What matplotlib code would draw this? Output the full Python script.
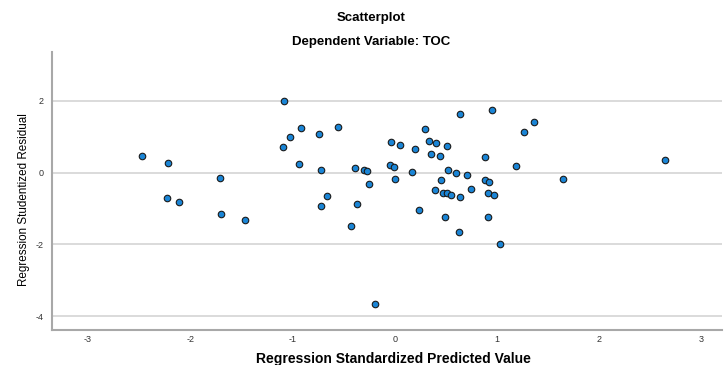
import numpy as np
import matplotlib as mpl

mpl.use('Agg')

import matplotlib.pyplot as plt

plt.rcParams['font.family'] = ['Liberation Sans', 'DejaVu Sans']
plt.rcParams['axes.unicode_minus'] = False

# standardized predicted value (x) and studentized residual (y)
pred = [-2.47, -2.22, -1.71, -1.08, -1.02, -0.92, -1.09, -0.94, -0.74, -0.72,
        -0.55, -0.39, -2.23, -2.11, -1.70, -1.46, -0.72, -0.66, -0.43, -0.37,
        -0.30, -0.27, -0.25, -0.05, -0.01, -0.04, 0.05, 0.00, 0.17, 0.20,
        0.30, 0.34, 0.40, 0.36, 0.44, 0.51, 0.64, 0.95, 1.27, 1.36,
        0.88, 1.19, 0.52, 0.60, 0.71, 0.45, 0.88, 0.92, 0.39, 0.47,
        0.51, 0.55, 0.64, 0.75, 0.91, 0.97, 0.24, 0.49, 0.91, 0.63,
        1.03, 2.64, 1.65, -0.19]
resid = [0.47, 0.27, -0.15, 1.99, 0.99, 1.24, 0.70, 0.24, 1.06, 0.06,
         1.26, 0.14, -0.72, -0.82, -1.14, -1.33, -0.93, -0.65, -1.49, -0.87,
         0.06, 0.04, -0.31, 0.20, 0.16, 0.84, 0.77, -0.19, 0.02, 0.65,
         1.21, 0.87, 0.82, 0.52, 0.46, 0.73, 1.63, 1.73, 1.12, 1.40,
         0.43, 0.19, 0.06, 0.00, -0.08, -0.21, -0.22, -0.25, -0.49, -0.56,
         -0.58, -0.62, -0.69, -0.46, -0.58, -0.62, -1.03, -1.24, -1.23, -1.66,
         -1.99, 0.36, -0.18, -3.65]

x_ticks = [-3, -2, -1, 0, 1, 2, 3]
y_ticks = [-4, -2, 0, 2]

fig = plt.figure(figsize=(7.24, 3.65), dpi=100)
ax = fig.add_axes([0.072, 0.097, 0.925, 0.761])

for yt in y_ticks:
    ax.axhline(yt, color='#d4d4d4', lw=1.2, zorder=0)

ax.scatter(pred, resid, s=22, c='#1a85d6', edgecolors='#1a1a1a',
           linewidths=0.8, zorder=3)

ax.set_xlim(-3.35, 3.2)
ax.set_ylim(-4.37, 3.36)
ax.set_xticks(x_ticks)
ax.set_yticks(y_ticks)
ax.tick_params(length=0, labelsize=6.5, colors='#333333')
ax.tick_params(axis='x', pad=4)
ax.tick_params(axis='y', pad=6)

for s in ['top', 'right']:
    ax.spines[s].set_visible(False)
for s in ['left', 'bottom']:
    ax.spines[s].set_color('#a8a8a8')
    ax.spines[s].set_linewidth(1.5)

ax.set_xlabel('Regression Standardized Predicted Value', fontsize=10,
              fontweight='bold', labelpad=5.5)
ax.xaxis.label.set_x(0.51)
ax.set_ylabel('Regression Studentized Residual', fontsize=8.4,
              fontweight='medium', labelpad=4)
ax.yaxis.label.set_y(0.467)

fig.text(0.512, 0.95, 'Scatterplot', ha='center', va='center',
         fontsize=9.5, fontweight='bold')
fig.text(0.512, 0.885, 'Dependent Variable: TOC', ha='center', va='center',
         fontsize=9.5, fontweight='bold')

fig.savefig('out.png', dpi=100)
